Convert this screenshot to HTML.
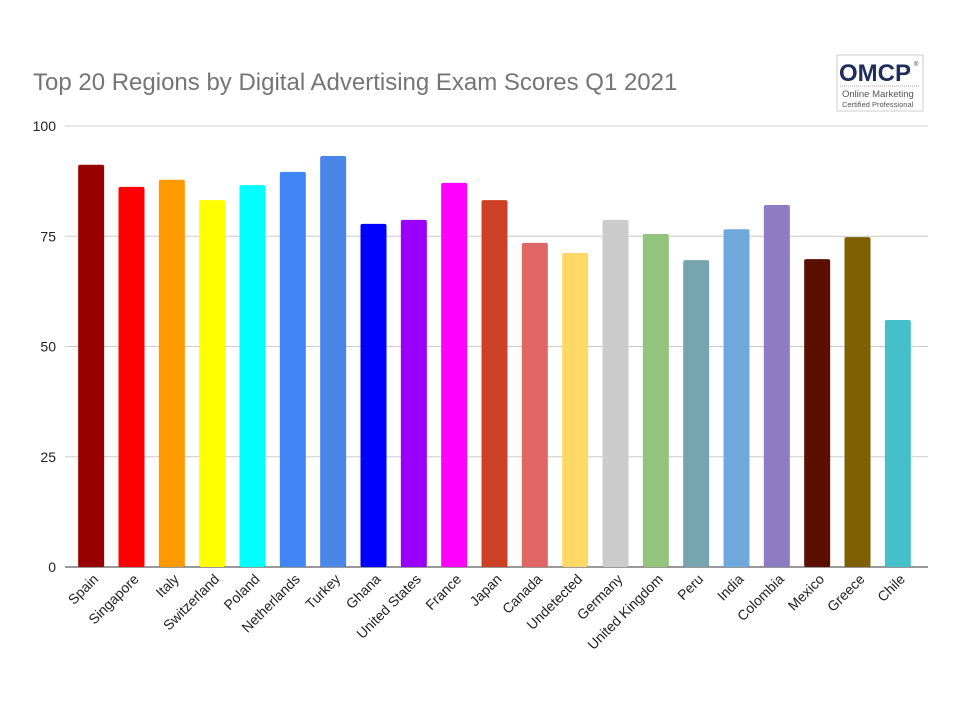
<!DOCTYPE html>
<html><head><meta charset="utf-8"><style>
body{margin:0;background:#fff;font-family:"Liberation Sans",sans-serif;}
</style></head><body>
<svg id="c" width="960" height="720" xmlns="http://www.w3.org/2000/svg">
<text x="33" y="90" font-size="24" fill="#757575" font-family="Liberation Sans">Top 20 Regions by Digital Advertising Exam Scores Q1 2021</text>
<g>
<rect x="837" y="55" width="86" height="56" fill="#fff" stroke="#ccc"/>
<text x="839" y="81" font-size="24" font-weight="bold" fill="#1f2d5c" font-family="Liberation Sans">OMCP</text>
<text x="914" y="66" font-size="6" fill="#1f2d5c">®</text>
<line x1="840" y1="86" x2="920" y2="86" stroke="#aaa" stroke-dasharray="1,1"/>
<text x="842" y="97" font-size="9.5" fill="#555">Online Marketing</text>
<text x="842" y="107" font-size="7.5" fill="#555">Certified Professional</text>
</g>
<g id="grid"></g><g id="bars"></g><g id="xl"></g>
</svg>
<script>
const categories=["Spain","Singapore","Italy","Switzerland","Poland","Netherlands","Turkey","Ghana","United States","France","Japan","Canada","Undetected","Germany","United Kingdom","Peru","India","Colombia","Mexico","Greece","Chile"];
const scores=[91.2,86.2,87.8,83.2,86.6,89.6,93.2,77.8,78.7,87.1,83.2,73.5,71.2,78.7,75.5,69.6,76.6,82.1,69.8,74.8,56.0];
const colors=["#990000","#ff0000","#ff9900","#ffff00","#00ffff","#4285f4","#4a86e8","#0000ff","#9900ff","#ff00ff","#cc4125","#e06666","#ffd966","#cccccc","#93c47d","#76a5af","#6fa8dc","#8e7cc3","#5b0f00","#7f6000","#45bfc9"];
const yTicks=[0,25,50,75,100];
const NS="http://www.w3.org/2000/svg";
const gx0=65,gx1=928,bx0=71,bx1=918,y0=567,y1=126;
const y=v=>y0-(v/100)*(y0-y1);
const step=(bx1-bx0)/categories.length;
const xc=i=>bx0+step*(i+0.5);
function mk(t,a,p){const e=document.createElementNS(NS,t);for(const k in a)e.setAttribute(k,a[k]);p.appendChild(e);return e;}
const g=document.getElementById('grid'),b=document.getElementById('bars'),xl=document.getElementById('xl');
yTicks.forEach(t=>{
 const l=mk('line',{x1:gx0,x2:gx1,y1:y(t),y2:y(t),stroke:t===0?'#333':'#ccc','stroke-width':1},g);
 
 
 const tx=mk('text',{x:56,y:y(t)+5,'text-anchor':'end','font-size':14,fill:'#222'},g);
 tx.textContent=t;
 
 
});
categories.forEach((c,i)=>{
 const w=26;
 const r=mk('rect',{x:xc(i)-w/2,y:y(scores[i]),width:w,height:y0-y(scores[i]),fill:colors[i],rx:2},b);
 
 
 const ax=xc(i)+8;
 const t=mk('text',{x:ax,y:580,'text-anchor':'end','font-size':14,fill:'#222',transform:`rotate(-45 ${ax} 580)`},xl);
 t.textContent=c;
 
 
});
</script>
</body></html>
